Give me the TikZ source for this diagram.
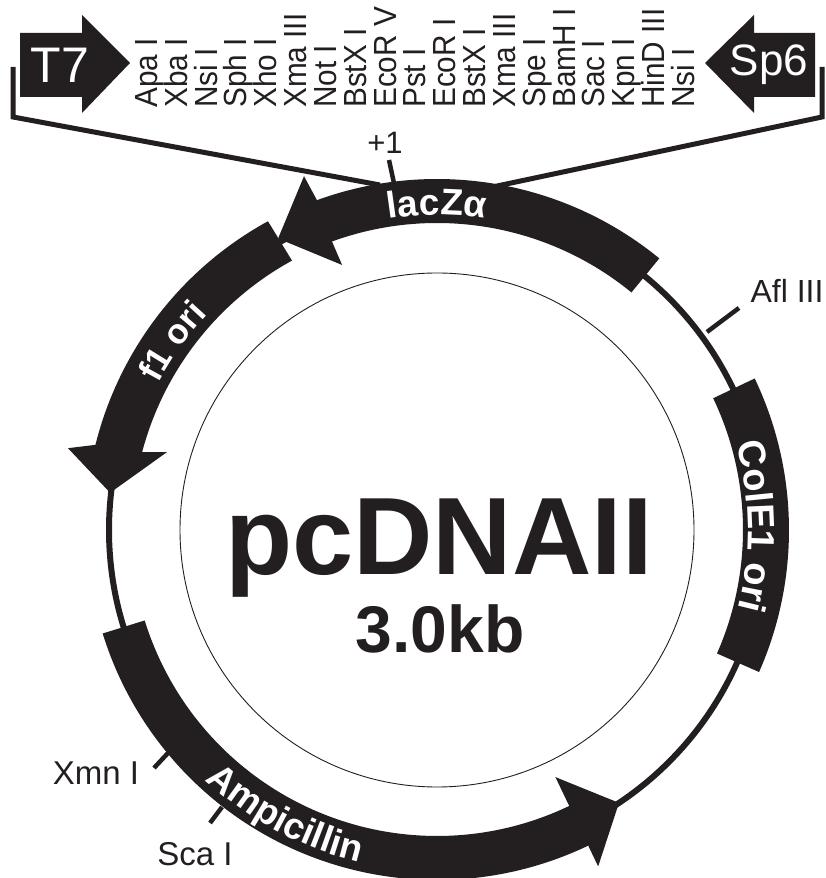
\documentclass[tikz,border=0pt]{standalone}
\usepackage{fontspec}
\setmainfont{Liberation Sans}
\usetikzlibrary{decorations.text}
\definecolor{ink}{HTML}{231F20}
\tikzset{
  band/.style={fill=ink,draw=none},
  wire/.style={draw=ink,line width=5pt,line join=miter},
  ringline/.style={draw=ink,line width=6pt},
  tickmark/.style={draw=ink,line width=4.5pt},
  enzyme/.style={rotate=90,anchor=base west,text=ink,font=\fontsize{32}{32}\selectfont,inner sep=0pt},
  site/.style={text=ink,font=\fontsize{33}{33}\selectfont,inner sep=0pt}
}
\begin{document}
\begin{tikzpicture}[x=1pt,y=1pt]
\useasboundingbox (0,0) rectangle (826,878);
% promoters
\fill[ink] (20,845) -- (82,845) -- (82,863) -- (130,815) -- (82,765) -- (82,781) -- (20,781) -- cycle;
\node[text=white,font=\fontsize{50}{50}\selectfont,inner sep=0pt] (t7) at (60,813) {T7};
\fill[ink] (815,845) -- (754,845) -- (754,863) -- (705,815) -- (754,765) -- (754,781) -- (815,781) -- cycle;
\node[text=white,font=\fontsize{44}{44}\selectfont,inner sep=0pt] (sp6) at (769,813) {Sp6};
% bracket
\coordinate (bl0) at (13,811); \coordinate (bl1) at (13,761); \coordinate (bl2) at (380,693);
\coordinate (br0) at (822,811); \coordinate (br1) at (822,761); \coordinate (br2) at (490,690.5);
\draw[wire] (bl0) -- (bl1) -- (bl2);
\draw[wire] (br0) -- (br1) -- (br2);
% polylinker
\foreach \n/\lab [count=\i from 0] in {a/Apa I,b/Xba I,c/Nsi I,d/Sph I,e/Xho I,f/Xma III,g/Not I,h/BstX I,k/EcoR V,l/Pst I,m/EcoR I,n/BstX I,o/Xma III,p/Spe I,q/BamH I,r/Sac I,s/Kpn I,u/HinD III,v/Nsi I}{
  \node[enzyme] (z\n) at ({157.5+\i*29.83},770) {\scalebox{0.93}[1]{\lab}};
}
\node[text=ink,font=\fontsize{31}{31}\selectfont,inner sep=0pt] (plus) at (385,735) {+1};
\coordinate (p0) at (389,718); \coordinate (p1) at (395,690);
\draw[tickmark] (p0) -- (p1);
% plasmid
\begin{scope}[shift={(437,348)}]
\draw[ink,line width=0.9pt] (0,0) circle[radius=257];
\draw[ringline] (0,0) circle[radius=328];
% lacZ
\path[band] (50.7:351) arc[start angle=50.7,end angle=110,radius=351] -- (110.6:378) -- (118.6:332) -- (109.7:281.5) -- (110:307) arc[start angle=110,end angle=50.7,radius=307] -- cycle;
% f1
\path[band] (118.7:352) arc[start angle=118.7,end angle=166,radius=352] -- (167.5:378) -- (173.5:329) -- (163.9:281) -- (165.2:305) arc[start angle=165.2,end angle=118.7,radius=308] -- cycle;
% Amp
\path[band] (197.2:350) arc[start angle=197.2,end angle=295.6,radius=350] -- (295.6:373) -- (303.7:328) -- (295.6:274) -- (295.6:306) arc[start angle=295.6,end angle=197.2,radius=306] -- cycle;
% ColE1
\path[band] (25.5:352) arc[start angle=25.5,end angle=-23.8,radius=352] -- (-23.8:306) arc[start angle=-23.8,end angle=25.5,radius=306] -- cycle;
% labels on bands
\path[decorate,decoration={text along path,text align=center,text color=white,text={|\bfseries\fontsize{37}{37}\selectfont|lacZα}}] (112:315) arc[start angle=112,end angle=68,radius=315];
\path[decorate,decoration={text along path,text align=center,text color=white,text={|\bfseries\fontsize{35}{35}\selectfont|f1 ori}}] (167:315) arc[start angle=167,end angle=122,radius=315];
\path[decorate,decoration={text along path,text align=center,text color=white,text={|\bfseries\fontsize{38}{38}\selectfont|ColE1 ori}}] (25:311) arc[start angle=25,end angle=-23.6,radius=311];
\path[decorate,decoration={text along path,text align=center,text color=white,text={|\bfseries\fontsize{37}{37}\selectfont|Ampicillin}}] (222:341) arc[start angle=222,end angle=262,radius=341];
\end{scope}
% ticks
\coordinate (a0) at (707,546); \coordinate (a1) at (739,570);
\draw[tickmark] (a0) -- (a1);
\coordinate (x0) at (154,110); \coordinate (x1) at (168,125);
\draw[tickmark] (x0) -- (x1);
\coordinate (s0) at (210,55); \coordinate (s1) at (222,71);
\draw[tickmark] (s0) -- (s1);
\node[site,font=\fontsize{32}{32}\selectfont] (afl) at (787,587) {Afl III};
\node[site] (xmn) at (96,105) {Xmn I};
\node[site] (sca) at (195,24) {Sca I};
% title
\node[text=ink,font=\bfseries\fontsize{110}{110}\selectfont,inner sep=0pt,anchor=base] (title) at (439,303) {pcDNAII};
\node[text=ink,font=\bfseries\fontsize{66}{66}\selectfont,inner sep=0pt,anchor=base] (size) at (440,225) {3.0kb};
\end{tikzpicture}
\end{document}
